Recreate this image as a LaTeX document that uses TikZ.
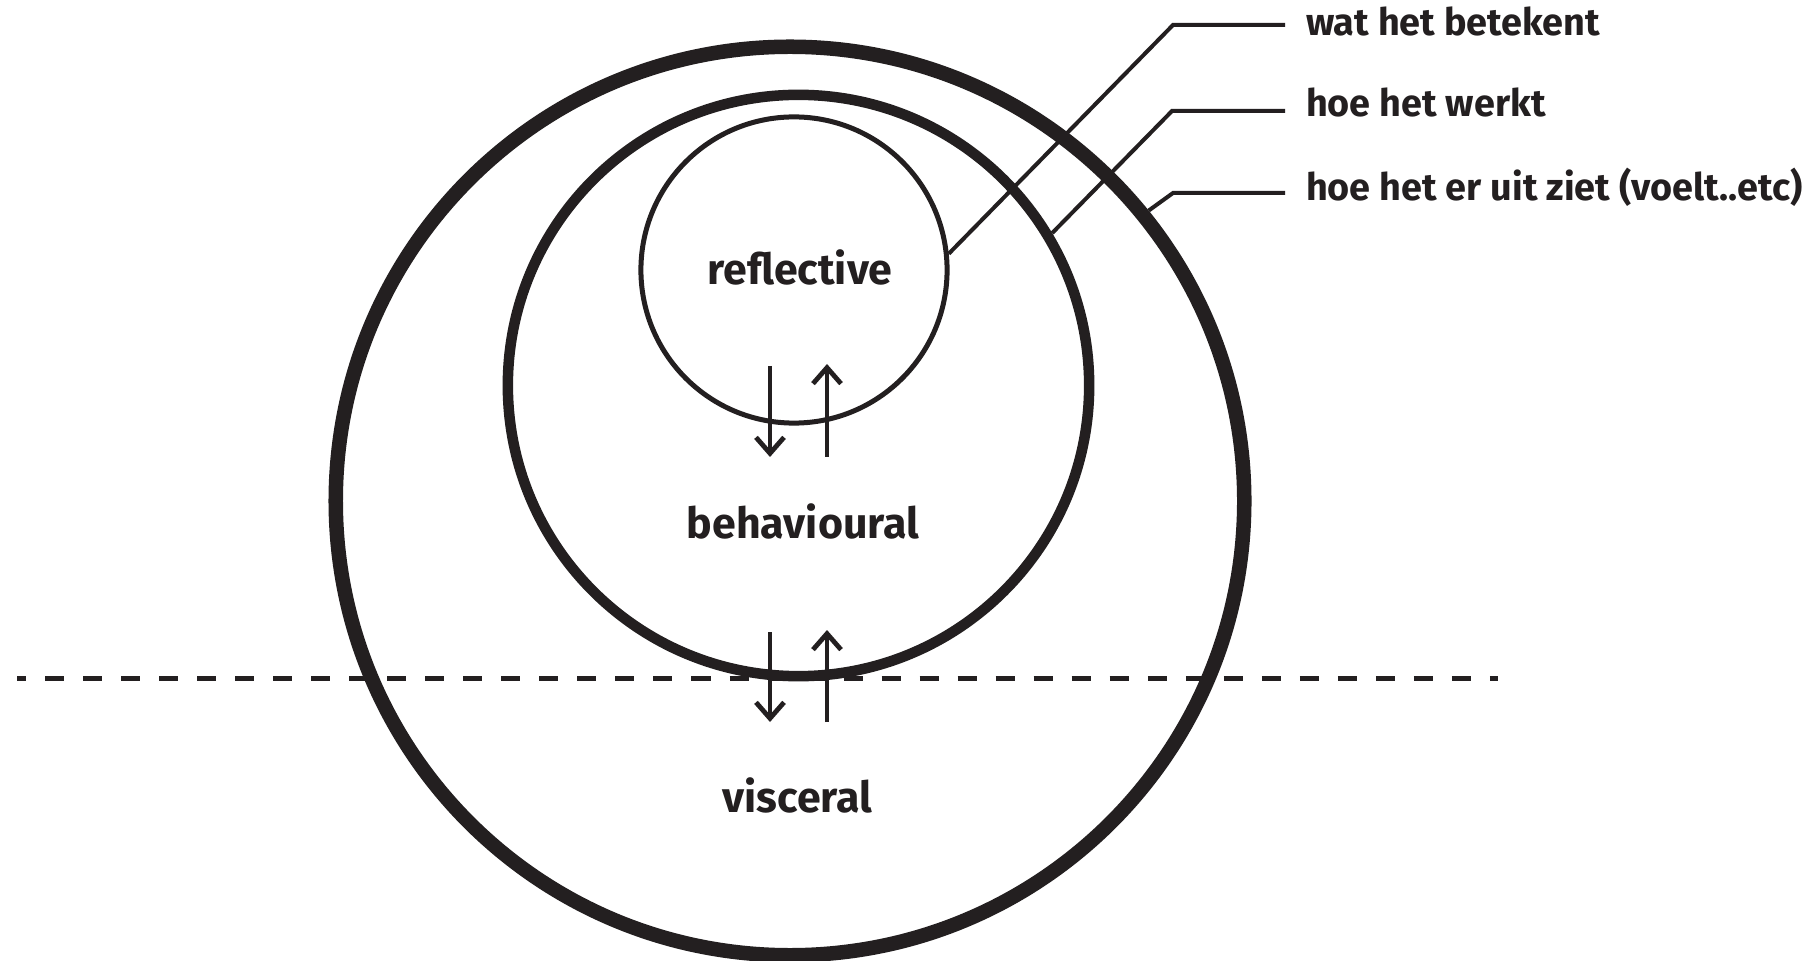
\documentclass[tikz,border=0pt]{standalone}
\usepackage{fontspec}
\setmainfont{Fira Sans}
\usetikzlibrary{arrows.meta, positioning}
\definecolor{dnInk}{HTML}{231F20}

\begin{document}
\begin{tikzpicture}[x=0.01cm, y=-0.01cm,
  ring/.style={circle, draw=dnInk, inner sep=0pt, minimum size=#1},
  lvl/.style={font=\bfseries\fontsize{12.2}{14}\selectfont, text=dnInk, inner sep=0pt, anchor=base},
  tag/.style={font=\bfseries\fontsize{10.75}{13}\selectfont, text=dnInk, inner sep=0pt, outer xsep=2.1mm, anchor=base west},
  lead/.style={draw=dnInk, line width=0.4mm},
  flow/.style={-{Straight Barb[length=1.6mm, width=2.8mm]}, draw=dnInk, line width=0.48mm},
  cut/.style={draw=dnInk, line width=0.5mm, dash pattern=on 1.9mm off 1.9mm, dash phase=0.99mm}
]
  \path[fill=white, use as bounding box] (0,0) rectangle (1815,961);
  \draw[cut] (17,678) -- (1498,678);

  \node[ring=9.08cm, line width=1.45mm] (visc) at (790,501) {};
  \node[ring=5.81cm, line width=1.05mm] (behav) at (798.5,385.5) {};
  \node[ring=3.06cm, line width=0.5mm] (refl) at (794,270) {};

  \node[lvl] (reflT) at (800,285) {reflective};
  \node[lvl] (behavT) at (803,538) {behavioural};
  \node[lvl] (viscT) at (797.5,812) {visceral};

  \node[tag] (wat) at (1285,36) {wat het betekent};
  \node[tag] (werkt) at (1285,117) {hoe het werkt};
  \node[tag] (ziet) at (1285,201) {hoe het er uit ziet (voelt..etc)};

  \coordinate (k1) at (1173,25);
  \coordinate (k2) at (1172,111);
  \coordinate (k3) at (1173,193);
  \draw[lead] (refl.6) -- (k1) -- (k1 -| wat.west);
  \draw[lead] (behav.31) -- (k2) -- (k2 -| werkt.west);
  \draw[lead] (visc.39) -- (k3) -- (k3 -| ziet.west);

  \foreach \ya/\yb [count=\i] in {366/457, 632/722} {
    \coordinate (dn\i) at (770,\ya);
    \coordinate (dn\i-end) at (770,\yb);
    \coordinate (up\i) at (827,\yb);
    \coordinate (up\i-end) at (827,\ya-2);
    \draw[flow] (dn\i) -- (dn\i-end);
    \draw[flow] (up\i) -- (up\i-end);
  }
\end{tikzpicture}
\end{document}
